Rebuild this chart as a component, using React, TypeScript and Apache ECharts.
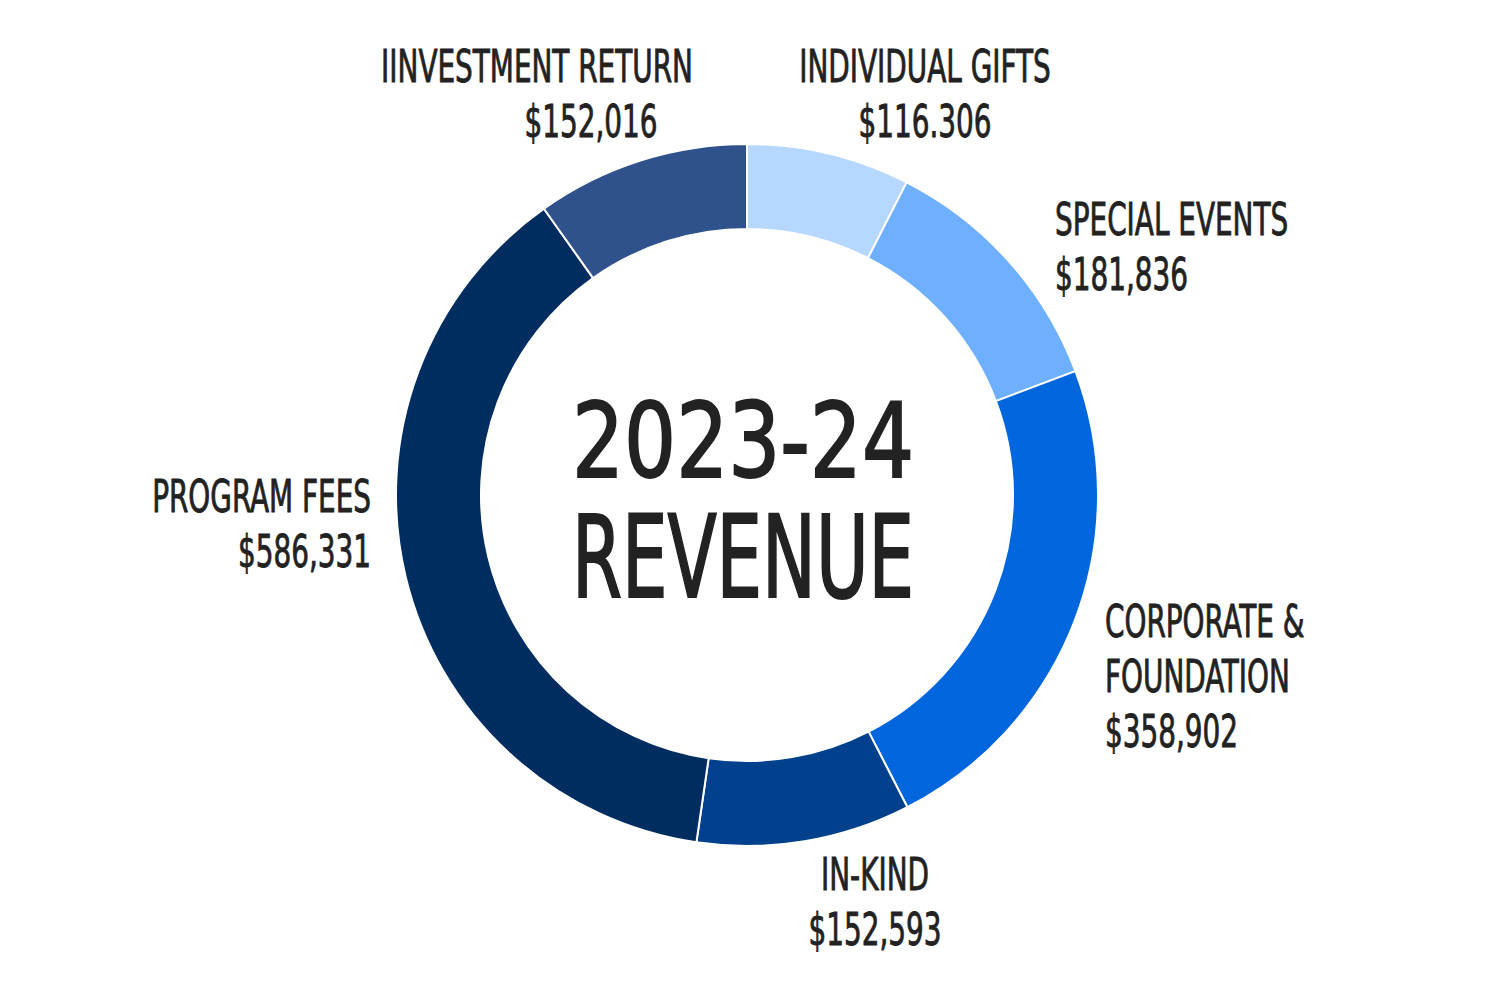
import React, { useEffect, useRef } from "react";
import * as echarts from "echarts";

const categories = [
  "INDIVIDUAL GIFTS",
  "SPECIAL EVENTS",
  "CORPORATE & FOUNDATION",
  "IN-KIND",
  "PROGRAM FEES",
  "IINVESTMENT RETURN",
];
const values = [116306, 181836, 358902, 152593, 586331, 152016];
const valueLabels = ["$116.306", "$181,836", "$358,902", "$152,593", "$586,331", "$152,016"];
const nameLines = [
  ["INDIVIDUAL GIFTS"],
  ["SPECIAL EVENTS"],
  ["CORPORATE &", "FOUNDATION"],
  ["IN-KIND"],
  ["PROGRAM FEES"],
  ["IINVESTMENT RETURN"],
];
const colors = ["#b6d7ff", "#6eb0ff", "#0066dd", "#00408c", "#002d60", "#30528c"];
const titleLines = ["2023-24", "REVENUE"];

// label layout: per-line anchor x, first line centre y, alignment
const labelLayout = [
  { xs: [925, 925], y: 67, align: "center" },
  { xs: [1055, 1055], y: 220, align: "left" },
  { xs: [1105, 1105, 1105], y: 622, align: "left" },
  { xs: [875, 875], y: 875, align: "center" },
  { xs: [371, 371], y: 497, align: "right" },
  { xs: [537, 591], y: 67, align: "center" },
];

const FONT = '"DejaVu Sans Condensed", "Liberation Sans Narrow", sans-serif';

export default function App() {
  const ref = useRef<HTMLDivElement>(null);
  useEffect(() => {
    if (!ref.current) return;
    const chart = echarts.init(ref.current, undefined, { renderer: "svg" });
    const graphics: any[] = [];
    labelLayout.forEach((lay, i) => {
      const lines = [...nameLines[i], valueLabels[i]];
      lines.forEach((t, j) => {
        graphics.push({
          type: "text",
          x: lay.xs[j],
          y: lay.y + j * 55,
          scaleY: 1.42,
          style: {
            x: 0,
            y: 0,
            text: t,
            fill: "#222222",
            stroke: "#222222",
            lineWidth: 0.6,
            font: `400 31px ${FONT}`,
            textAlign: lay.align,
            textVerticalAlign: "middle",
          },
        });
      });
    });
    graphics.push({
      type: "text",
      x: 743,
      y: 442,
      scaleY: 1.13,
      style: {
        x: 0,
        y: 0,
        text: titleLines[0],
        fill: "#222222",
        stroke: "#222222",
        lineWidth: 1.6,
        font: `400 91px ${FONT}`,
        textAlign: "center",
        textVerticalAlign: "middle",
      },
    });
    graphics.push({
      type: "text",
      x: 743,
      y: 558,
      scaleY: 1.42,
      style: {
        x: 0,
        y: 0,
        text: titleLines[1],
        fill: "#222222",
        stroke: "#222222",
        lineWidth: 1.4,
        font: `400 80px ${FONT}`,
        textAlign: "center",
        textVerticalAlign: "middle",
      },
    });
    chart.setOption({
      animation: false,
      backgroundColor: "#ffffff",
      series: [
        {
          type: "pie",
          center: [747, 495],
          radius: [266, 351],
          startAngle: 90,
          clockwise: true,
          label: { show: false },
          labelLine: { show: false },
          emphasis: { disabled: true },
          itemStyle: { borderColor: "#ffffff", borderWidth: 2 },
          data: categories.map((c, i) => ({
            name: c,
            value: values[i],
            itemStyle: { color: colors[i] },
          })),
        },
      ],
      graphic: graphics,
    });
    return () => chart.dispose();
  }, []);
  return (
    <div
      ref={ref}
      style={{ position: "fixed", left: 0, top: 0, width: 1500, height: 1000 }}
    />
  );
}
